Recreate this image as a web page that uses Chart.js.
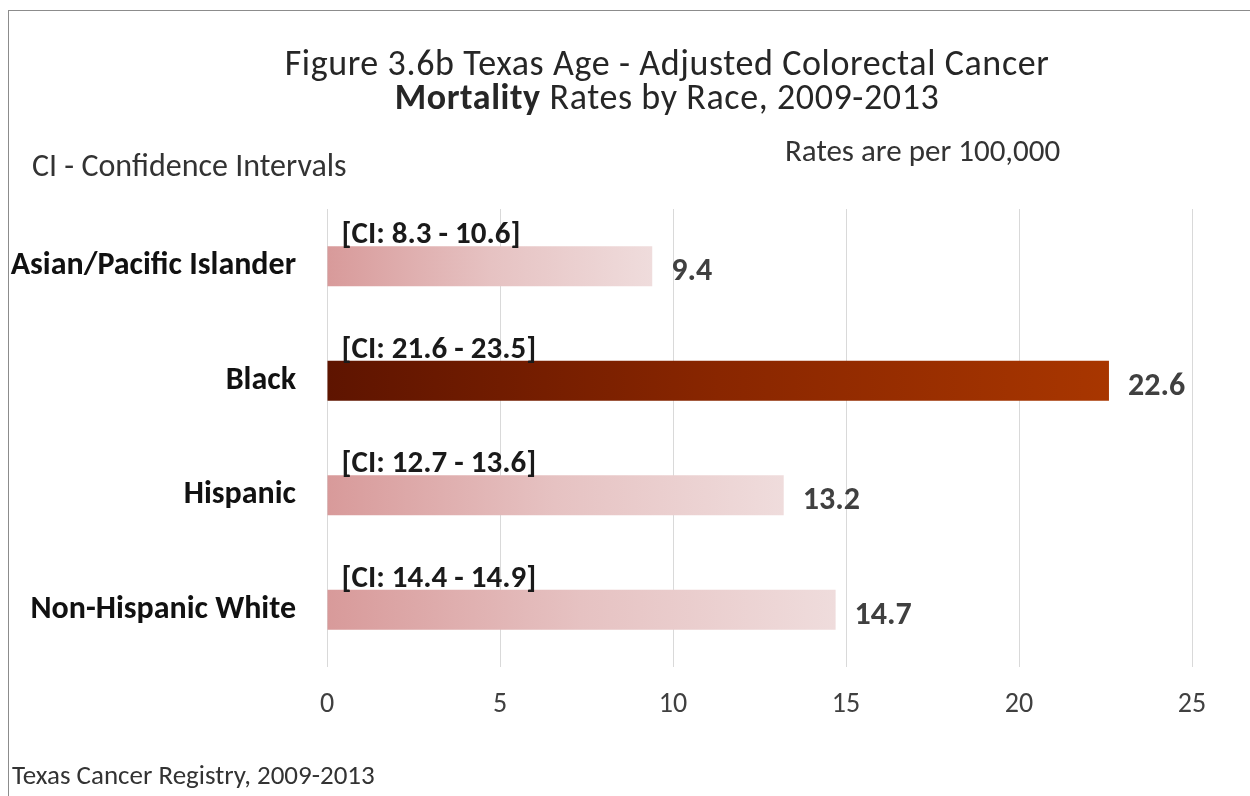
<!DOCTYPE html>
<html lang="en">
<head>
    <meta charset="UTF-8">
    <title>Texas Colorectal Cancer Mortality by Race</title>
    <script src="https://cdn.jsdelivr.net/npm/chart.js"></script>
    <style>
        body {
            margin: 0;
            background: #ffffff;
            font-family: Carlito, Calibri, Lato, sans-serif;
        }
        #wrap {
            position: relative;
            width: 1250px;
            height: 796px;
            overflow: hidden;
        }
        #frame {
            position: absolute;
            left: 8px;
            top: 10px;
            width: 1300px;
            height: 900px;
            border-top: 1px solid #8c8c8c;
            border-left: 1px solid #8c8c8c;
        }
        canvas {
            position: absolute;
            left: 0;
            top: 0;
        }
        .txt {
            position: absolute;
            color: #333333;
            white-space: nowrap;
        }
        #title {
            left: 0;
            width: 1334px;
            top: 46px;
            text-align: center;
            font-size: 36px;
            line-height: 34px;
            letter-spacing: 0.6px;
            color: #262626;
        }
        #ci-note { left: 32px; top: 149px; font-size: 32px; line-height: 34px; }
        #rates { left: 785px; top: 133px; font-size: 31px; line-height: 34px; }
        #source { left: 12px; top: 758px; font-size: 27px; line-height: 34px; }
    </style>
</head>
<body>
<div id="wrap">
    <div id="frame"></div>
    <canvas id="rateChart" width="1250" height="796"></canvas>
    <div class="txt" id="title">Figure 3.6b Texas Age - Adjusted Colorectal Cancer<br><b>Mortality</b> Rates by Race, 2009-2013</div>
    <div class="txt" id="ci-note">CI - Confidence Intervals</div>
    <div class="txt" id="rates">Rates are per 100,000</div>
    <div class="txt" id="source">Texas Cancer Registry, 2009-2013</div>
</div>

<script>
    const races = ['Asian/Pacific Islander', 'Black', 'Hispanic', 'Non-Hispanic White'];
    const rates = [9.4, 22.6, 13.2, 14.7];
    const ciLow = [8.3, 21.6, 12.7, 14.4];
    const ciHigh = [10.6, 23.5, 13.6, 14.9];
    const xTicks = [0, 5, 10, 15, 20, 25];

    const FONT = 'Carlito, Calibri, Lato, sans-serif';

    function barFill(context) {
        const chart = context.chart;
        if (!chart.chartArea) return '#e0b0b0';
        const x = chart.scales.x;
        const x0 = x.getPixelForValue(0);
        const x1 = x.getPixelForValue(rates[context.dataIndex]);
        const g = chart.ctx.createLinearGradient(x0, 0, x1, 0);
        if (races[context.dataIndex] === 'Black') {
            g.addColorStop(0, '#5e1400');
            g.addColorStop(0.5, '#892600');
            g.addColorStop(1, '#a83600');
        } else {
            g.addColorStop(0, '#d89a9a');
            g.addColorStop(0.5, '#e6c2c2');
            g.addColorStop(1, '#efdcdc');
        }
        return g;
    }

    // value labels to the right of each bar, CI text sitting on top of it
    const barLabels = {
        id: 'barLabels',
        afterDatasetsDraw(chart) {
            const c = chart.ctx;
            const bars = chart.getDatasetMeta(0).data;
            c.save();
            bars.forEach((bar, i) => {
                const top = bar.y - bar.height / 2;
                c.font = 'bold 32px ' + FONT;
                c.fillStyle = '#404040';
                c.textAlign = 'left';
                c.textBaseline = 'middle';
                c.fillText(rates[i].toFixed(1), bar.x + 19, bar.y + 6);

                c.font = 'bold 31px ' + FONT;
                c.fillStyle = '#1a1a1a';
                c.textBaseline = 'bottom';
                c.fillText('[CI: ' + ciLow[i].toFixed(1) + ' - ' + ciHigh[i].toFixed(1) + ']', bar.base + 14, top + 5);
            });
            c.restore();
        }
    };

    new Chart(document.getElementById('rateChart'), {
        type: 'bar',
        data: {
            labels: races,
            datasets: [{
                data: rates,
                backgroundColor: barFill,
                borderWidth: 0,
                barPercentage: 0.7,
                categoryPercentage: 0.5
            }]
        },
        options: {
            indexAxis: 'y',
            responsive: false,
            animation: false,
            layout: { padding: { top: 209, right: 58, bottom: 74, left: 0 } },
            plugins: {
                legend: { display: false },
                tooltip: { enabled: false }
            },
            scales: {
                x: {
                    min: 0,
                    max: 25,
                    afterBuildTicks: s => { s.ticks = xTicks.map(v => ({ value: v })); },
                    afterFit: s => { s.height = 55; },
                    grid: { color: '#d9d9d9', lineWidth: 1, drawTicks: false },
                    border: { display: false },
                    ticks: {
                        padding: 21,
                        color: '#404040',
                        font: { family: FONT, size: 28 }
                    }
                },
                y: {
                    afterFit: s => { s.width = 327; },
                    grid: { display: false },
                    border: { display: false },
                    ticks: {
                        padding: 23,
                        color: '#111111',
                        font: { family: FONT, size: 32, weight: 'bold' }
                    }
                }
            }
        },
        plugins: [barLabels]
    });
</script>
</body>
</html>
